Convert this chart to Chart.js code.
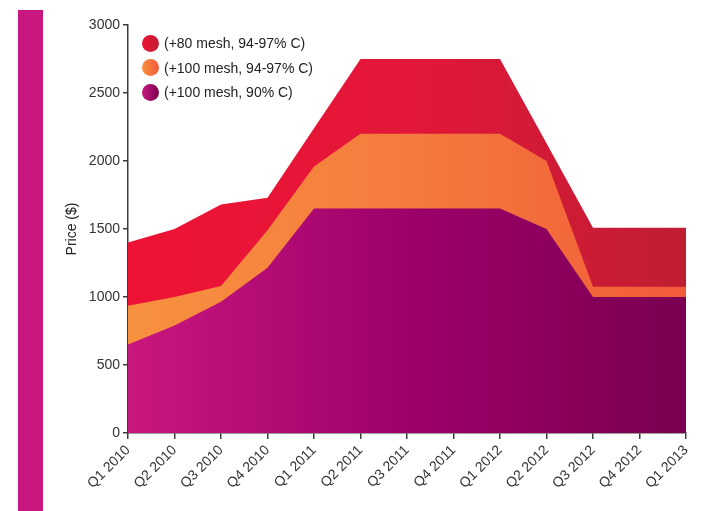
<!DOCTYPE html>
<html>
<head>
<meta charset="utf-8">
<script src="https://cdn.jsdelivr.net/npm/chart.js@4.4.1/dist/chart.umd.min.js"></script>
<style>
  html, body { margin: 0; padding: 0; background: #fff; }
  #wrap { position: relative; width: 728px; height: 511px; overflow: hidden; font-family: "Liberation Sans", Arial, sans-serif; }
  #bar { position: absolute; left: 18px; top: 10px; width: 25px; height: 501px; background: #c8177f; }
  #c { position: absolute; left: 0; top: 0; }
  #legend { position: absolute; left: 142px; top: 31px; }
  .item { display: flex; align-items: center; height: 24.5px; font-size: 14px; color: #222; }
  .dot { width: 17px; height: 17px; border-radius: 50%; margin-right: 5px; }
</style>
</head>
<body>
<div id="wrap">
  <div id="bar"></div>
  <canvas id="c" width="728" height="511"></canvas>
  <div id="legend"></div>
</div>
<script>
const categories = ["Q1 2010","Q2 2010","Q3 2010","Q4 2010","Q1 2011","Q2 2011","Q3 2011","Q4 2011","Q1 2012","Q2 2012","Q3 2012","Q4 2012","Q1 2013"];
const mesh80_9497 = [1400,1500,1680,1730,2240,2750,2750,2750,2750,2130,1510,1510,1510];
const mesh100_9497 = [935,1000,1080,1490,1960,2200,2200,2200,2200,2000,1075,1075,1075];
const mesh100_90 = [650,790,965,1215,1650,1650,1650,1650,1650,1500,1000,1000,1000];
const seriesLabels = ["(+80 mesh, 94-97% C)","(+100 mesh, 94-97% C)","(+100 mesh, 90% C)"];
const yTicks = [0,500,1000,1500,2000,2500,3000];

const gradStops = {
  red: ["#ee1234", "#e3173a", "#bf1e32"],
  orange: ["#f7913f", "#f47b3d", "#f25a39"],
  purple: ["#c8177f", "#9e006a", "#7a0050"]
};

function makeGrad(chart, stops) {
  const a = chart.chartArea;
  if (!a) return stops[0];
  const g = chart.ctx.createLinearGradient(a.left, 0, a.right, 0);
  g.addColorStop(0, stops[0]);
  g.addColorStop(0.5, stops[1]);
  g.addColorStop(1, stops[2]);
  return g;
}

const legendEl = document.getElementById('legend');
[["red", seriesLabels[0]], ["orange", seriesLabels[1]], ["purple", seriesLabels[2]]].forEach(([k, t]) => {
  const d = document.createElement('div');
  d.className = 'item';
  const s = gradStops[k];
  d.innerHTML = '<span class="dot" style="background:linear-gradient(to right,' + s[0] + ',' + s[2] + ')"></span><span>' + t + '</span>';
  legendEl.appendChild(d);
});

const axisColor = "#3a3a3a";
const ds = (label, data, key) => ({
  label, data,
  fill: 'origin',
  borderWidth: 0,
  pointRadius: 0,
  tension: 0,
  backgroundColor: (ctx) => makeGrad(ctx.chart, gradStops[key])
});

new Chart(document.getElementById('c'), {
  type: 'line',
  data: {
    labels: categories,
    datasets: [
      ds(seriesLabels[2], mesh100_90, 'purple'),
      ds(seriesLabels[1], mesh100_9497, 'orange'),
      ds(seriesLabels[0], mesh80_9497, 'red')
    ]
  },
  options: {
    responsive: false,
    animation: false,
    devicePixelRatio: 1,
    layout: { padding: { left: 60, right: 42, top: 25, bottom: 0 } },
    plugins: { legend: { display: false }, tooltip: { enabled: false } },
    scales: {
      x: {
        offset: false,
        grid: { display: true, drawOnChartArea: false, drawTicks: true, tickLength: 6, color: axisColor, lineWidth: 1.5 },
        border: { display: true, color: axisColor, width: 1.5 },
        ticks: { minRotation: 45, maxRotation: 45, autoSkip: false, color: "#333", font: { family: "Liberation Sans", size: 14 }, padding: 3 },
        afterFit: (s) => { s.height = 78; }
      },
      y: {
        min: 0, max: 3000,
        afterBuildTicks: (s) => { s.ticks = yTicks.map(v => ({ value: v })); },
        grid: { display: true, drawOnChartArea: false, drawTicks: true, tickLength: 5, color: axisColor, lineWidth: 1.5 },
        border: { display: true, color: axisColor, width: 1.5 },
        ticks: { color: "#333", font: { family: "Liberation Sans", size: 14 }, padding: 3, callback: (v) => String(v) },
        title: { display: true, text: "Price ($)", color: "#222", font: { family: "Liberation Sans", size: 14 }, padding: { top: 4, bottom: 4 } },
        afterFit: (s) => { s.width = 68; }
      }
    }
  }
});
</script>
</body>
</html>
